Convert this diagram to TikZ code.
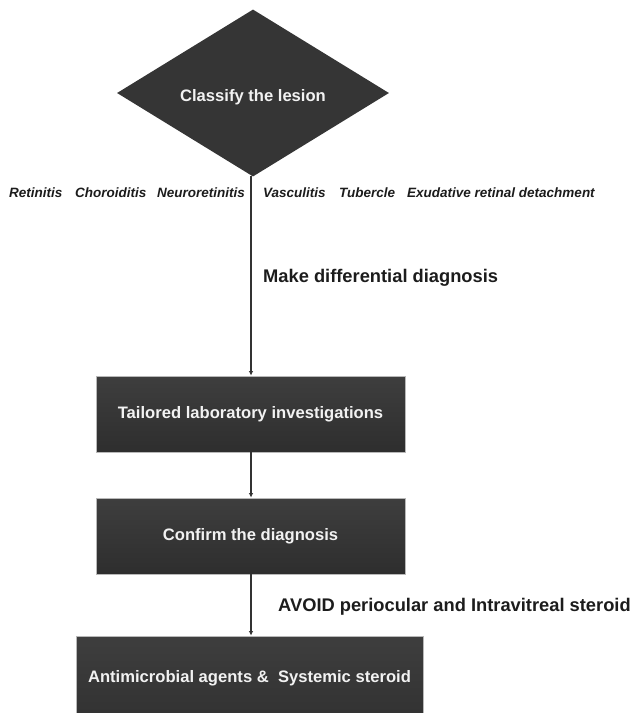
\documentclass[tikz,border=0pt]{standalone}
\usepackage{fontspec}
\setmainfont{Liberation Sans}
\usetikzlibrary{shapes.geometric,arrows.meta}
\definecolor{boxfill}{HTML}{353535}
\definecolor{boxtop}{HTML}{3E3E3E}
\definecolor{boxbot}{HTML}{2E2E2E}
\definecolor{boxedge}{HTML}{B8B8B8}
\definecolor{linecol}{HTML}{333333}
\definecolor{labcol}{HTML}{1C1C1C}
\definecolor{boxtext}{HTML}{F2F2F2}
\begin{document}
\begin{tikzpicture}[x=1pt,y=-1pt,
  stepbox/.style={rectangle, draw=boxedge, line width=0.8pt, top color=boxtop, bottom color=boxbot,
    text=boxtext, font=\bfseries\fontsize{16.6}{20}\selectfont, inner sep=0pt},
  boxlabel/.style={text=boxtext, font=\bfseries\fontsize{16.6}{20}\selectfont, inner sep=0pt},
  decision/.style={diamond, fill=boxfill, text=boxtext, inner sep=0pt,
    font=\bfseries\fontsize{16.6}{20}\selectfont},
  flow/.style={draw=linecol, line width=1.3pt, -{Latex[length=4.5pt,width=4.5pt]}},
  lesion/.style={anchor=west, text=labcol, inner sep=0pt,
    font=\bfseries\itshape\fontsize{13.5}{16}\selectfont},
  note/.style={anchor=west, text=labcol, inner sep=0pt,
    font=\bfseries\fontsize{18.3}{22}\selectfont}]
\useasboundingbox (0,0) rectangle (634,713);
\begin{scope}
\clip (0,0) rectangle (634,713);
% diamond
\node[decision, minimum width=272pt, minimum height=167pt, aspect=1.63] (classify) at (253,93) {};
\node[boxlabel] (classifytext) at (253,97) {Classify the lesion};
% boxes
\node[stepbox, minimum width=309pt, minimum height=76pt] (lab) at (250.5,414) {Tailored laboratory investigations};
\node[stepbox, minimum width=309pt, minimum height=76pt] (confirm) at (250.5,536) {Confirm the diagnosis};
\node[stepbox, minimum width=347pt, minimum height=110pt] (treat) at (249.5,691) {};
\node[boxlabel] (treattext) at (249.5,678) {Antimicrobial agents \&\ \ Systemic steroid};
% lesion types
\node[lesion] (l1) at (9,193) {Retinitis};
\node[lesion] (l2) at (75,193) {Choroiditis};
\node[lesion] (l3) at (157,193) {Neuroretinitis};
\node[lesion] (l4) at (263,193) {Vasculitis};
\node[lesion] (l5) at (339,193) {Tubercle};
\node[lesion] (l6) at (407,193) {Exudative retinal detachment};
% labels
\node[note] (ddx) at (263,278) {Make differential diagnosis};
\node[note] (avoid) at (278,607) {AVOID periocular and Intravitreal steroid};
% connectors
\coordinate (dbot) at (251,176);
\draw[flow] (dbot) -- (lab.north -| dbot);
\draw[flow] (lab.south -| dbot) -- (confirm.north -| dbot);
\draw[flow] (confirm.south -| dbot) -- (treat.north -| dbot);
\end{scope}
\end{tikzpicture}
\end{document}
